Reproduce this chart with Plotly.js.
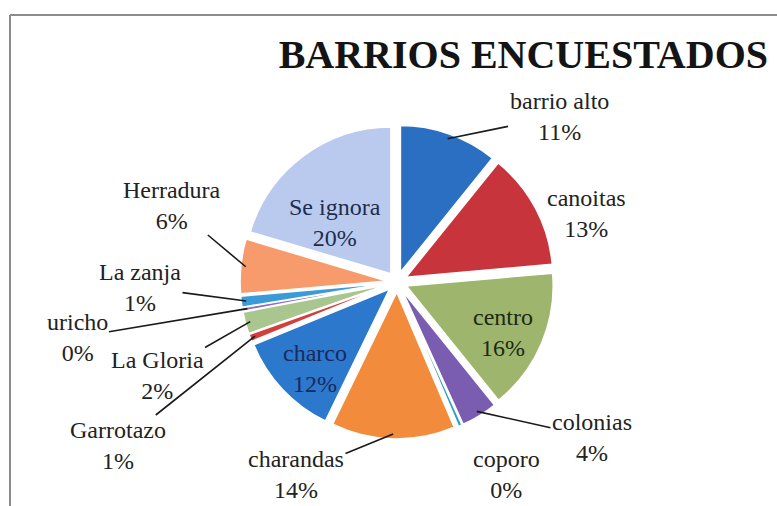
<!DOCTYPE html>
<html>
<head>
<meta charset="utf-8">
<script src="https://cdn.plot.ly/plotly-3.0.1.min.js"></script>
<style>html,body{margin:0;padding:0;background:#fff}#chart{width:777px;height:506px}</style>
</head>
<body>
<div id="chart"></div>
<script>
// ---- data ----
const categories = ['barrio alto','canoitas','centro','colonias','coporo','charandas','charco','Garrotazo','La Gloria','uricho','La zanja','Herradura','Se ignora'];
const counts = [27, 32, 39, 10, 1, 34, 29, 2, 6, 1, 3, 15, 51];
const sliceColors = ['#2b6fc2','#c8343c','#9db56c','#7a5db0','#2e9ec4','#f28c3c','#2b78cc','#d2403e','#a9c68e','#8a6cc0','#3b9bd9','#f79b6c','#b9caee'];
const chartTitle = 'BARRIOS ENCUESTADOS';

// ---- layout config ----
const W = 777, H = 506;
const cx = 397, cy = 282, Rtot = 157, pullAmt = 0.07;
// label text centres (px): [x, y, leader line?, text colour]
const labelPos = {
  'barrio alto': [559,116, true,  '#222'],
  'canoitas':    [586,213, false, '#222'],
  'centro':      [503,332, false, '#1c2a12'],
  'colonias':    [592,437, true,  '#222'],
  'coporo':      [506,474, false, '#222'],
  'charandas':   [296,474, true,  '#222'],
  'charco':      [315,368, false, '#1a2a5c'],
  'Garrotazo':   [118,445, true,  '#222'],
  'La Gloria':   [157,375, true,  '#222'],
  'uricho':      [ 77,337, true,  '#222'],
  'La zanja':    [140,287, true,  '#222'],
  'Herradura':   [172,205, true,  '#222'],
  'Se ignora':   [335,222, false, '#1e2c4e']
};

const fontFamily = '"Liberation Serif", "Times New Roman", serif';
const total = counts.reduce((a,b)=>a+b,0);

const annotations = [];
let cum = 0;
categories.forEach((name,i)=>{
  const v = counts[i];
  const mid = (cum + v/2)/total*2*Math.PI; // clockwise from 12 o'clock
  cum += v;
  const pos = labelPos[name];
  if(!pos) return;
  const text = name + '<br>' + Math.round(v/total*100) + '%';
  const font = {family:fontFamily, size:24, color:pos[3]};
  if(pos[2]){
    const r = Rtot - 5;
    const px = cx + r*Math.sin(mid), py = cy - r*Math.cos(mid);
    annotations.push({
      text, font, xref:'paper', yref:'paper',
      x: px/W, y: 1-py/H, ax: pos[0]-px, ay: pos[1]-py,
      showarrow:true, arrowhead:0, arrowwidth:1.6, arrowcolor:'#1a1a1a', standoff:0, startstandoff:0
    });
  } else {
    annotations.push({
      text, font, xref:'paper', yref:'paper',
      x: pos[0]/W, y: 1-pos[1]/H, xanchor:'center', yanchor:'middle', showarrow:false
    });
  }
});

const trace = {
  type:'pie',
  labels: categories,
  values: counts,
  sort:false,
  direction:'clockwise',
  rotation:0,
  pull: categories.map(()=>pullAmt),
  marker:{colors: sliceColors, line:{color:'#ffffff', width:1.5}},
  textinfo:'none',
  showlegend:false,
  automargin:false,
  hoverinfo:'label+percent',
  domain:{x:[(cx-Rtot)/W,(cx+Rtot)/W], y:[1-(cy+Rtot)/H, 1-(cy-Rtot)/H]}
};

const layout = {
  width:W, height:H,
  margin:{l:0,r:0,t:0,b:0},
  paper_bgcolor:'#ffffff',
  showlegend:false,
  title:{text:'<b>'+chartTitle+'</b>', font:{family:fontFamily, size:40, color:'#141414'},
         x:768/W, xanchor:'right', xref:'paper', y:1-54/H, yanchor:'middle', yref:'paper'},
  annotations,
  shapes:[
    {type:'line', xref:'paper', yref:'paper', x0:10/W, x1:1.01, y0:1-15/H, y1:1-15/H, line:{color:'#8c8c8c', width:2}},
    {type:'line', xref:'paper', yref:'paper', x0:10/W, x1:10/W, y0:1-15/H, y1:-0.01, line:{color:'#8c8c8c', width:2}}
  ]
};

Plotly.newPlot('chart',[trace],layout,{displayModeBar:false, staticPlot:true});
</script>
</body>
</html>
